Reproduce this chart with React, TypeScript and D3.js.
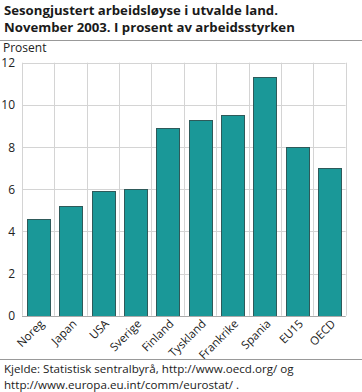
import { useEffect, useRef } from "react";
import * as d3 from "d3";

// Seasonally adjusted unemployment, Nov 2003
const COUNTRIES = ["Noreg", "Japan", "USA", "Sverige", "Finland", "Tyskland", "Frankrike", "Spania", "EU15", "OECD"];
const VALUES = [4.6, 5.2, 5.9, 6.0, 8.9, 9.3, 9.5, 11.3, 8.0, 7.0];
const Y_TICKS = [0, 2, 4, 6, 8, 10, 12];
const TITLE_LINES = ["Sesongjustert arbeidsløyse i utvalde land.", "November 2003. I prosent av arbeidsstyrken"];
const SOURCE_LINES = ["Kjelde: Statistisk sentralbyrå, http://www.oecd.org/ og", "http://www.europa.eu.int/comm/eurostat/ ."];

const W = 362;
const H = 392;
const FONT = "'Open Sans', 'Noto Sans', sans-serif";
const BAR_FILL = "#1a9898";
const BAR_STROKE = "#2e5a5a";
const GRID = "#d4d4d4";

function drawChart(svgEl: SVGSVGElement) {
  const margin = { top: 62.7, right: 16.4, bottom: 76.3, left: 22 };
  const innerBottom = H - margin.bottom;

  const svg = d3.select(svgEl);
  svg.selectAll("*").remove();

  const x = d3.scaleBand<string>()
    .domain(COUNTRIES)
    .range([margin.left, W - margin.right])
    .paddingInner(0.3)
    .paddingOuter(0.15);

  const y = d3.scaleLinear()
    .domain([0, 12])
    .range([innerBottom, margin.top]);

  const step = x.step();

  // Title
  svg.append("g")
    .selectAll("text")
    .data(TITLE_LINES)
    .enter()
    .append("text")
    .attr("x", 4)
    .attr("y", (_, i) => 15 + i * 17)
    .attr("fill", "#1a1a1a")
    .style("font-family", FONT)
    .style("font-size", "13.2px")
    .style("font-weight", "bold")
    .text(d => d);

  svg.append("line")
    .attr("x1", 0).attr("x2", W)
    .attr("y1", 40.5).attr("y2", 40.5)
    .attr("stroke", "#999")
    .attr("stroke-width", 1);

  svg.append("text")
    .attr("x", 3).attr("y", 52)
    .attr("fill", "#222")
    .style("font-family", FONT)
    .style("font-size", "12px")
    .text("Prosent");

  // Grid
  const grid = svg.append("g");
  grid.selectAll(".hgrid")
    .data(Y_TICKS)
    .enter()
    .append("line")
    .attr("x1", margin.left).attr("x2", W - margin.right)
    .attr("y1", d => Math.round(y(d)) + 0.5)
    .attr("y2", d => Math.round(y(d)) + 0.5)
    .attr("stroke", GRID);

  const bounds = COUNTRIES.map(c => (x(c) as number) - step * 0.15).concat([W - margin.right]);
  grid.selectAll(".vgrid")
    .data(bounds)
    .enter()
    .append("line")
    .attr("x1", d => Math.round(d) + 0.5).attr("x2", d => Math.round(d) + 0.5)
    .attr("y1", margin.top).attr("y2", innerBottom)
    .attr("stroke", GRID);

  // Y tick labels
  svg.append("g")
    .selectAll("text")
    .data(Y_TICKS)
    .enter()
    .append("text")
    .attr("x", 15)
    .attr("y", d => y(d) + 4.5)
    .attr("text-anchor", "end")
    .attr("fill", "#222")
    .style("font-family", FONT)
    .style("font-size", "12px")
    .text(d => d);

  // Bars
  svg.append("g")
    .selectAll("rect")
    .data(VALUES)
    .enter()
    .append("rect")
    .attr("x", (_, i) => Math.round(x(COUNTRIES[i]) as number) + 0.5)
    .attr("y", d => Math.round(y(d)) + 0.5)
    .attr("width", Math.round(x.bandwidth()))
    .attr("height", d => Math.round(innerBottom) - Math.round(y(d)))
    .attr("fill", BAR_FILL)
    .attr("stroke", BAR_STROKE)
    .attr("stroke-width", 1);

  // Baseline
  svg.append("line")
    .attr("x1", margin.left).attr("x2", W - margin.right)
    .attr("y1", Math.round(innerBottom) + 0.5).attr("y2", Math.round(innerBottom) + 0.5)
    .attr("stroke", "#aaa");

  // X labels, rotated
  svg.append("g")
    .selectAll("text")
    .data(COUNTRIES)
    .enter()
    .append("text")
    .attr("transform", d => `translate(${(x(d) as number) + x.bandwidth() / 2 + 4},${innerBottom + 6}) rotate(-45)`)
    .attr("text-anchor", "end")
    .attr("dy", "0.35em")
    .attr("fill", "#222")
    .style("font-family", FONT)
    .style("font-size", "11.5px")
    .text(d => d);

  // Source
  svg.append("line")
    .attr("x1", 0).attr("x2", W)
    .attr("y1", 359.5).attr("y2", 359.5)
    .attr("stroke", "#999");

  svg.append("g")
    .selectAll("text")
    .data(SOURCE_LINES)
    .enter()
    .append("text")
    .attr("x", 4)
    .attr("y", (_, i) => 373 + i * 16)
    .attr("fill", "#222")
    .style("font-family", FONT)
    .style("font-size", "11.6px")
    .text(d => d);
}

export default function App() {
  const svgRef = useRef<SVGSVGElement>(null);

  useEffect(() => {
    document.body.style.margin = "0";
    if (svgRef.current) drawChart(svgRef.current);
  }, []);

  return (
    <svg ref={svgRef} width={W} height={H} style={{ display: "block", background: "#fff" }} />
  );
}
